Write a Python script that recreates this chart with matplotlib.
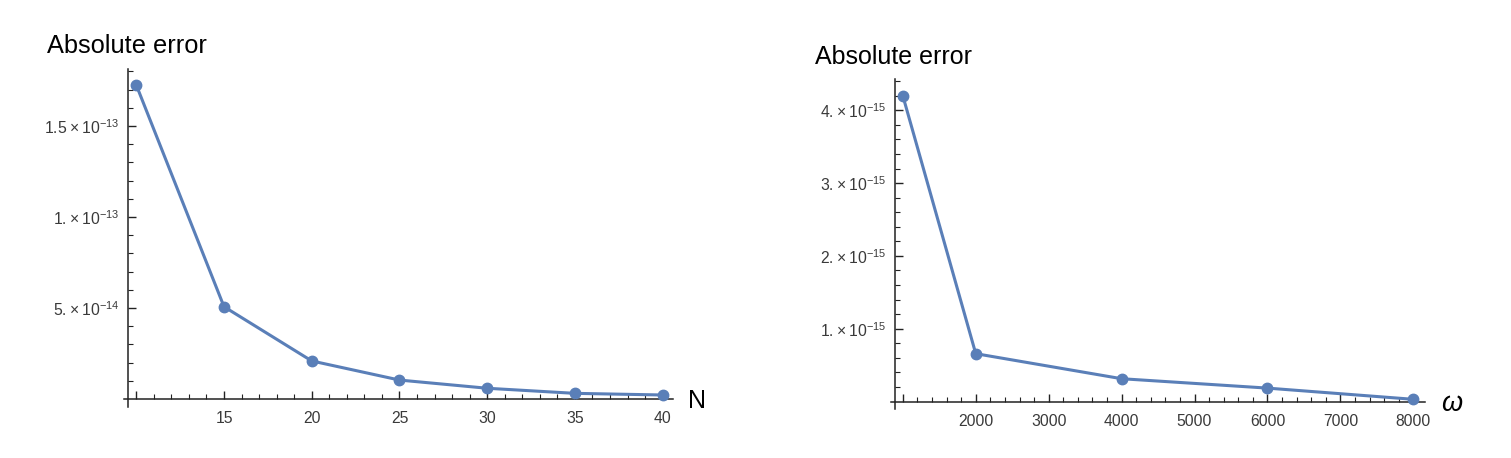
import matplotlib
matplotlib.use("Agg")
import matplotlib.pyplot as plt
from matplotlib.ticker import FixedLocator, FixedFormatter

plt.rcParams['font.family'] = ['Liberation Sans', 'DejaVu Sans']
plt.rcParams['mathtext.fontset'] = 'custom'
plt.rcParams['mathtext.rm'] = 'Liberation Sans'
plt.rcParams['mathtext.it'] = 'Liberation Sans:italic'
plt.rcParams['mathtext.bf'] = 'Liberation Sans:bold'

# ---- data ----
N_values = [10, 15, 20, 25, 30, 35, 40]
err_N = [1.725e-13, 5.07e-14, 2.09e-14, 1.04e-14, 5.9e-15, 3.1e-15, 2.2e-15]

omega_values = [1000, 2000, 4000, 6000, 8000]
err_omega = [4.20e-15, 6.57e-16, 3.13e-16, 1.84e-16, 3.0e-17]

# ticks
T = "\u2009×\u2009"
N_major = [10, 15, 20, 25, 30, 35, 40]
N_major_labels = ["", "15", "20", "25", "30", "35", "40"]
N_minor = list(range(10, 41))
errN_major = [5e-14, 1e-13, 1.5e-13]
errN_major_labels = ["5." + T + "10$^{\\mathregular{-14}}$", "1." + T + "10$^{\\mathregular{-13}}$",
                     "1.5" + T + "10$^{\\mathregular{-13}}$"]
errN_minor = [i * 1e-14 for i in range(1, 19)]

om_major = [1000, 2000, 3000, 4000, 5000, 6000, 7000, 8000]
om_major_labels = ["", "2000", "3000", "4000", "5000", "6000", "7000", "8000"]
om_minor = [1000 + 200 * i for i in range(0, 36)]
errom_major = [1e-15, 2e-15, 3e-15, 4e-15]
errom_major_labels = ["1." + T + "10$^{\\mathregular{-15}}$", "2." + T + "10$^{\\mathregular{-15}}$",
                      "3." + T + "10$^{\\mathregular{-15}}$", "4." + T + "10$^{\\mathregular{-15}}$"]
errom_minor = [i * 2e-16 for i in range(1, 23)]

LINE = '#5A7FB8'
AXC = '#222222'
TICKC = '#3a3a3a'

W, H = 1511, 458
fig = plt.figure(figsize=(W / 100, H / 100), dpi=100)


def px_axes(l, r, t, b):
    return fig.add_axes([l / W, 1 - b / H, (r - l) / W, (b - t) / H])


def style(ax, xspine, yspine, xmaj, xmajl, xmin, ymaj, ymajl, ymin):
    for s in ['top', 'right']:
        ax.spines[s].set_visible(False)
    ax.spines['left'].set_position(('data', xspine))
    ax.spines['bottom'].set_position(('data', yspine))
    for s in ['left', 'bottom']:
        ax.spines[s].set_color(AXC)
        ax.spines[s].set_linewidth(1.1)
    ax.xaxis.set_major_locator(FixedLocator(xmaj))
    ax.xaxis.set_major_formatter(FixedFormatter(xmajl))
    ax.xaxis.set_minor_locator(FixedLocator(xmin))
    ax.yaxis.set_major_locator(FixedLocator(ymaj))
    ax.yaxis.set_major_formatter(FixedFormatter(ymajl))
    ax.yaxis.set_minor_locator(FixedLocator(ymin))
    ax.tick_params(which='major', direction='in', length=6, width=1.0, color=AXC,
                   labelcolor=TICKC, labelsize=11.3)
    ax.tick_params(which='minor', direction='in', length=3.5, width=0.8, color=AXC)
    ax.tick_params(axis='x', which='major', pad=9)
    ax.tick_params(axis='y', which='major', pad=6)
    ax.patch.set_alpha(0)


# ---- left plot ----
ax1 = px_axes(124, 673, 69, 407)
ax1.plot(N_values, err_N, color=LINE, lw=2.2, marker='o', ms=7.5, clip_on=False, zorder=3)
ax1.set_xlim(9.30, 40.59)
ax1.set_ylim(-4.4e-15, 1.813e-13)
style(ax1, 9.527, 0, N_major, N_major_labels, N_minor, errN_major, errN_major_labels, errN_minor)

fig.text(47 / W, 1 - 34 / H, "Absolute error", fontsize=18.3, ha='left', va='top', color='black')
fig.text(688 / W, 1 - 401 / H, "N", fontsize=18, ha='left', va='center', color='black')

# ---- right plot ----
ax2 = px_axes(891, 1425, 79, 409)
ax2.plot(omega_values, err_omega, color=LINE, lw=2.2, marker='o', ms=7.5, clip_on=False, zorder=3)
ax2.set_xlim(838, 8160)
ax2.set_ylim(-1.03e-16, 4.43e-15)
style(ax2, 893, 0, om_major, om_major_labels, om_minor, errom_major, errom_major_labels, errom_minor)

fig.text(815 / W, 1 - 45 / H, "Absolute error", fontsize=18, ha='left', va='top', color='black')
fig.text(1441 / W, 1 - 404 / H, r"$\omega$", fontsize=19.5, ha='left', va='center', color='black')

fig.savefig("out.png", dpi=100)
